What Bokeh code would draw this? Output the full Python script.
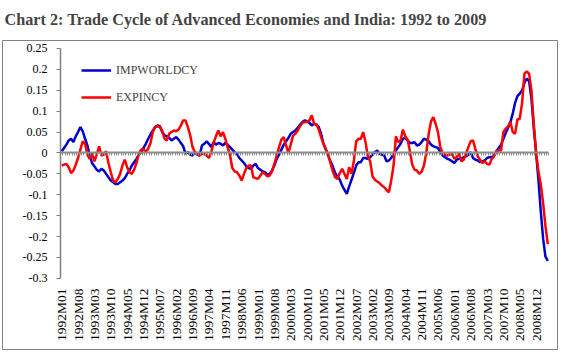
from bokeh.plotting import figure
from bokeh.models import (Range1d, FixedTicker, CustomJSTickFormatter, Legend, LegendItem,
                          LinearAxis, ColumnDataSource)
from bokeh.embed import file_html
from bokeh.resources import INLINE

# ---------------- data ----------------
months = [f"{y}M{m:02d}" for y in range(1992, 2010) for m in range(1, 13)][:209]

impworldcy = [
    0.004, 0.012, 0.02, 0.03, 0.034, 0.026, 0.04, 0.05, 0.062, 0.052,
    0.034, 0.018, -0.006, -0.024, -0.032, -0.04, -0.044, -0.038, -0.042, -0.05,
    -0.058, -0.066, -0.07, -0.074, -0.074, -0.07, -0.066, -0.06, -0.05, -0.042,
    -0.03, -0.022, -0.014, -0.004, 0.002, 0.012, 0.022, 0.034, 0.044, 0.054,
    0.062, 0.066, 0.064, 0.05, 0.042, 0.04, 0.036, 0.03, 0.034, 0.038,
    0.032, 0.024, 0.016, -0.002, 0.002, -0.004, -0.006, 0.002, -0.004, -0.006,
    0.018, 0.022, 0.028, 0.022, 0.014, 0.026, 0.02, 0.024, 0.022, 0.018,
    0.024, 0.02, 0.014, 0.008, 0.002, -0.002, -0.012, -0.018, -0.024, -0.032,
    -0.036, -0.038, -0.03, -0.026, -0.036, -0.04, -0.044, -0.046, -0.052, -0.05,
    -0.042, -0.03, -0.014, -0.004, 0.008, 0.02, 0.028, 0.036, 0.046, 0.05,
    0.054, 0.06, 0.068, 0.074, 0.078, 0.076, 0.072, 0.066, 0.07, 0.068,
    0.062, 0.046, 0.022, 0.008, -0.006, -0.02, -0.032, -0.048, -0.056, -0.064,
    -0.078, -0.088, -0.098, -0.08, -0.064, -0.048, -0.03, -0.022, -0.022, -0.012,
    -0.012, -0.014, -0.01, -0.004, 0.002, 0.006, -0.002, -0.004, -0.006, -0.02,
    -0.018, -0.012, -0.002, 0.006, 0.014, 0.022, 0.034, 0.036, 0.03, 0.024,
    0.024, 0.026, 0.018, 0.02, 0.026, 0.034, 0.032, 0.028, 0.02, 0.016,
    0.014, 0.012, 0.002, -0.006, -0.01, -0.014, -0.016, -0.02, -0.024, -0.016,
    -0.014, -0.014, -0.01, -0.008, -0.004, 0.002, -0.012, -0.016, -0.018, -0.022,
    -0.02, -0.018, -0.012, -0.01, -0.01, -0.006, 0.004, 0.012, 0.02, 0.034,
    0.048, 0.06, 0.074, 0.094, 0.12, 0.136, 0.142, 0.15, 0.168, 0.178,
    0.172, 0.13, 0.06, 0.0, -0.065, -0.14, -0.205, -0.248, -0.258,
]

expincy = [
    -0.03, -0.028, -0.026, -0.034, -0.048, -0.042, -0.028, -0.012, 0.008, 0.028,
    0.022, -0.004, -0.014, 0.0, -0.02, -0.004, 0.016, -0.006, -0.004, 0.004,
    -0.024, -0.046, -0.066, -0.07, -0.062, -0.05, -0.03, -0.016, -0.034, -0.046,
    -0.05, -0.04, -0.024, -0.002, 0.008, 0.01, 0.002, 0.01, 0.024, 0.05,
    0.062, 0.064, 0.062, 0.054, 0.034, 0.03, 0.046, 0.05, 0.054, 0.052,
    0.056, 0.066, 0.078, 0.078, 0.062, 0.042, 0.014, 0.002, -0.002, -0.006,
    -0.002, -0.002, -0.006, -0.012, 0.002, 0.024, 0.04, 0.054, 0.04, 0.05,
    0.034, 0.014, -0.004, -0.036, -0.044, -0.046, -0.054, -0.066, -0.05, -0.036,
    -0.03, -0.03, -0.058, -0.06, -0.062, -0.054, -0.046, -0.05, -0.056, -0.054,
    -0.044, -0.026, -0.006, 0.014, 0.032, 0.038, 0.018, 0.0, 0.02, 0.042,
    0.046, 0.054, 0.064, 0.072, 0.074, 0.074, 0.078, 0.09, 0.07, 0.068,
    0.056, 0.038, 0.022, 0.01, -0.004, -0.024, -0.044, -0.058, -0.062, -0.048,
    -0.038, -0.05, -0.062, -0.034, -0.05, -0.02, 0.028, 0.034, 0.034, 0.05,
    0.026, -0.008, -0.02, -0.056, -0.064, -0.068, -0.072, -0.078, -0.082, -0.088,
    -0.094, -0.066, -0.03, 0.04, 0.026, 0.03, 0.056, 0.04, 0.032, 0.004,
    -0.028, -0.04, -0.042, -0.05, -0.045, -0.03, 0.0, 0.045, 0.075, 0.086,
    0.07, 0.05, 0.014, 0.0, -0.004, -0.006, -0.004, -0.002, -0.014, -0.01,
    0.0, -0.02, -0.016, -0.002, 0.014, 0.028, 0.03, 0.01, -0.008, -0.016,
    -0.024, -0.02, -0.026, -0.028, -0.014, -0.008, 0.004, 0.006, 0.006, 0.05,
    0.058, 0.064, 0.074, 0.05, 0.046, 0.08, 0.082, 0.12, 0.19, 0.195,
    0.19, 0.15, 0.07, 0.0, -0.045, -0.075, -0.12, -0.175, -0.218,
]

tick_labels = [
    "1992M01", "1992M08", "1993M03", "1993M10", "1994M05", "1994M12", "1995M07",
    "1996M02", "1996M09", "1997M04", "1997M11", "1998M06", "1999M01", "1999M08",
    "2000M03", "2000M10", "2001M05", "2001M12", "2002M07", "2003M02", "2003M09",
    "2004M04", "2004M11", "2005M06", "2006M01", "2006M08", "2007M03", "2007M10",
    "2008M05", "2008M12",
]

y_ticks = [-0.3, -0.25, -0.2, -0.15, -0.1, -0.05, 0, 0.05, 0.1, 0.15, 0.2, 0.25]

# ---------------- figure ----------------
n = len(months)
idx = list(range(n))
tick_pos = [months.index(t) for t in tick_labels]
y_lo, y_hi = y_ticks[0], y_ticks[-1]
SERIF = "Liberation Serif"
GRAY = "#808080"

src = ColumnDataSource(dict(x=idx, imp=impworldcy, exp=expincy))

# the plot frame is the bordered chart box; the axes sit inside it at fixed locations
p = figure(width=560, height=352, output_backend="svg", toolbar_location=None,
           x_range=Range1d(-25.33, 212.15), y_range=Range1d(-0.4701, 0.2691),
           min_border_left=2, min_border_right=3, min_border_top=40, min_border_bottom=3,
           background_fill_color="white", border_fill_color="white")
p.outline_line_color = GRAY
p.outline_line_width = 1
p.grid.visible = False

p.title.text = "Chart 2: Trade Cycle of Advanced Economies and India: 1992 to 2009"
p.title.text_font = SERIF
p.title.text_font_style = "bold"
p.title.text_font_size = "16.2px"
p.title.align = "left"
p.title.vertical_align = "top"
p.title.offset = 2
p.title.standoff = 20

# category labels along the bottom of the plotting area
xa = p.xaxis[0]
xa.fixed_location = y_lo
xa.ticker = FixedTicker(ticks=tick_pos)
xa.major_label_overrides = {pos: lab for pos, lab in zip(tick_pos, tick_labels)}
xa.major_label_orientation = 3.14159265 / 2
xa.major_label_text_font = SERIF
xa.major_label_text_font_size = "13.5px"
xa.major_label_text_color = "black"
xa.major_label_standoff = 10
xa.axis_line_color = None
xa.major_tick_line_color = None
xa.minor_tick_line_color = None
xa.major_tick_out = 0
xa.major_tick_in = 0

# value axis
ya = p.yaxis[0]
ya.fixed_location = -0.5
ya.bounds = (y_lo, y_hi)
ya.ticker = FixedTicker(ticks=y_ticks)
ya.formatter = CustomJSTickFormatter(code="return String(Math.round(tick*100)/100)")
ya.major_label_text_font = SERIF
ya.major_label_text_font_size = "12px"
ya.major_label_text_color = "black"
ya.axis_line_color = GRAY
ya.axis_line_width = 1.5
ya.major_tick_line_color = GRAY
ya.major_tick_out = 4
ya.major_tick_in = 0
ya.minor_tick_line_color = None
ya.major_label_standoff = 9

# category axis line crossing at zero, with a tick between every month
zero_axis = LinearAxis(fixed_location=0, bounds=(-0.5, n - 0.5),
                       ticker=FixedTicker(ticks=[i - 0.5 for i in range(n + 1)]),
                       formatter=CustomJSTickFormatter(code="return ''"),
                       axis_line_color="#8c8c8c", axis_line_width=2,
                       major_tick_line_color="#8c8c8c", major_tick_line_width=1,
                       major_tick_out=3, major_tick_in=0,
                       minor_tick_line_color=None, major_label_standoff=0)
p.add_layout(zero_axis, "below")

r_imp = p.line("x", "imp", source=src, line_color="#0000CC", line_width=2.5)
r_exp = p.line("x", "exp", source=src, line_color="#FF0000", line_width=2.5)

legend = Legend(items=[LegendItem(label="IMPWORLDCY", renderers=[r_imp]),
                       LegendItem(label="EXPINCY", renderers=[r_exp])],
                location=(79, 242), orientation="vertical",
                border_line_color=None, background_fill_alpha=0,
                padding=0, margin=0, spacing=7, glyph_width=30, glyph_height=20,
                label_height=20, label_standoff=5,
                label_text_font=SERIF, label_text_font_size="12px")
p.add_layout(legend, "center")

open("out.html", "w").write(file_html(p, INLINE))
